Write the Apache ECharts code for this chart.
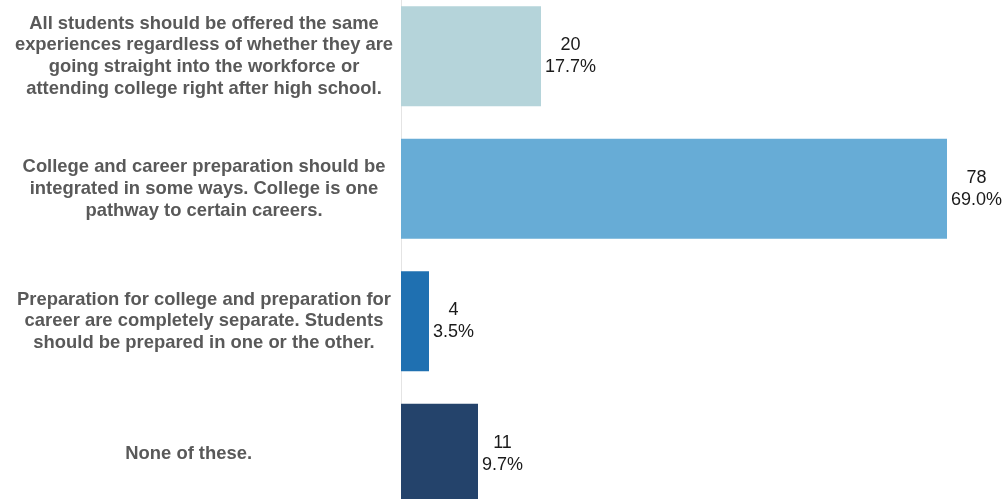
<!DOCTYPE html>
<html>
<head>
<meta charset="utf-8">
<script src="https://cdn.jsdelivr.net/npm/echarts@6/dist/echarts.min.js"></script>
<style>
html,body{margin:0;padding:0;background:#fff;overflow:hidden;width:1005px;height:499px;}
#chart{position:absolute;left:0;top:-10px;width:1005px;height:530px;}
</style>
</head>
<body>
<div id="chart"></div>
<script>
const categories = [
  "All students should be offered the same\nexperiences regardless of whether they are\ngoing straight into the workforce or\nattending college right after high school.",
  "College and career preparation should be\nintegrated in some ways. College is one\npathway to certain careers.",
  "Preparation for college and preparation for\ncareer are completely separate. Students\nshould be prepared in one or the other.",
  "None of these.      "
];
const counts = [20, 78, 4, 11];
const percents = ["17.7%", "69.0%", "3.5%", "9.7%"];
const colors = ["#b5d4da", "#67acd6", "#1f70b1", "#24436b"];

const chart = echarts.init(document.getElementById('chart'));
chart.setOption({
  animation: false,
  grid: {left: 401, right: 2, top: 0, bottom: 0, containLabel: false},
  xAxis: {type: 'value', min: 0, max: 86, show: false},
  yAxis: {
    type: 'category',
    inverse: true,
    data: categories,
    axisLine: {show: true, lineStyle: {color: '#e4e4e4', width: 1}},
    axisTick: {show: false},
    axisLabel: {
      align: 'center',
      margin: 197,
      fontFamily: 'Liberation Sans, Arial, sans-serif',
      fontWeight: 'bold',
      fontSize: 18.4,
      lineHeight: 21.8,
      color: '#595959'
    }
  },
  series: [{
    type: 'bar',
    barCategoryGap: '24.5%',
    data: counts.map((v, i) => ({value: v, itemStyle: {color: colors[i]}})),
    label: {
      show: true,
      position: 'right',
      distance: 4,
      formatter: p => '{a|' + counts[p.dataIndex] + '}\n{a|' + percents[p.dataIndex] + '}',
      rich: {
        a: {align: 'center', fontFamily: 'Liberation Sans, Arial, sans-serif', fontSize: 18, lineHeight: 22, color: '#1a1a1a'}
      }
    }
  }]
});
</script>
</body>
</html>
